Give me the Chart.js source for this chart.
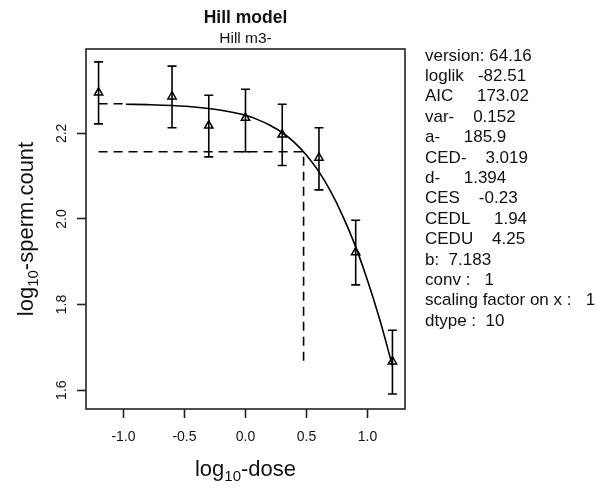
<!DOCTYPE html>
<html><head><meta charset="utf-8">
<script src="https://cdn.jsdelivr.net/npm/chart.js@4.4.0/dist/chart.umd.min.js"></script>
<style>html,body{margin:0;padding:0;background:#fff;}canvas{display:block;}</style>
</head><body>
<canvas id="c" width="611" height="490"></canvas>
<script>
// ---- data ----
const doseLog   = [-1.204, -0.602, -0.301, 0.0, 0.301, 0.602, 0.903, 1.204];
const meanResp  = [2.295, 2.286, 2.218, 2.236, 2.197, 2.143, 1.922, 1.667];
const upperResp = [2.367, 2.357, 2.289, 2.303, 2.268, 2.213, 1.997, 1.740];
const lowerResp = [2.222, 2.213, 2.145, 2.157, 2.125, 2.068, 1.846, 1.591];
const curveX = [-0.98, -0.8, -0.6, -0.4, -0.2, 0.0, 0.1, 0.2, 0.3, 0.4, 0.5, 0.6, 0.7, 0.8, 0.9, 1.0, 1.1, 1.204];
const curveY = [2.268, 2.267, 2.265, 2.261, 2.254, 2.242, 2.232, 2.219, 2.202, 2.179, 2.149, 2.111, 2.063, 2.005, 1.937, 1.856, 1.765, 1.657];
const backgroundLevel = 2.269;
const cesLevel = 2.157;
const cedLog = 0.476;
const cedLineBottom = 1.664;
const xTicks = [-1.0, -0.5, 0.0, 0.5, 1.0];
const yTicks = [1.6, 1.8, 2.0, 2.2];
const titleMain = 'Hill model';
const titleSub = 'Hill m3-';
const statLines = [
  'version: 64.16',
  'loglik   -82.51',
  'AIC     173.02',
  'var-    0.152',
  'a-     185.9',
  'CED-    3.019',
  'd-     1.394',
  'CES    -0.23',
  'CEDL     1.94',
  'CEDU    4.25',
  'b:  7.183',
  'conv :   1',
  'scaling factor on x :   1',
  'dtype :  10'
];

const FONT = '"Liberation Sans", Arial, Helvetica, sans-serif';
const INK = '#111';

function drawSubText(ctx, parts, size, subSize, subDrop) {
  let total = 0;
  const widths = parts.map(p => {
    ctx.font = (p.sub ? subSize : size) + 'px ' + FONT;
    const w = ctx.measureText(p.t).width; total += w; return w;
  });
  let x = -total / 2;
  parts.forEach((p, i) => {
    ctx.font = (p.sub ? subSize : size) + 'px ' + FONT;
    ctx.fillText(p.t, x, p.sub ? subDrop : 0);
    x += widths[i];
  });
}

const decorPlugin = {
  id: 'decor',
  afterDatasetsDraw(chart) {
    const {ctx, scales: {x, y}, chartArea: a} = chart;
    ctx.save();
    ctx.strokeStyle = '#000';
    ctx.lineWidth = 1.6;
    doseLog.forEach((d, i) => {
      const px = x.getPixelForValue(d);
      const pt = y.getPixelForValue(upperResp[i]);
      const pb = y.getPixelForValue(lowerResp[i]);
      ctx.beginPath();
      ctx.moveTo(px, pt); ctx.lineTo(px, pb);
      ctx.moveTo(px - 4.5, pt); ctx.lineTo(px + 4.5, pt);
      ctx.moveTo(px - 4.5, pb); ctx.lineTo(px + 4.5, pb);
      ctx.stroke();
    });
    ctx.strokeStyle = '#222';
    ctx.lineWidth = 1.6;
    ctx.strokeRect(a.left, a.top, a.right - a.left, a.bottom - a.top);
    ctx.restore();
  },
  afterDraw(chart) {
    const {ctx, chartArea: a} = chart;
    const cx = (a.left + a.right) / 2;
    const cy = (a.top + a.bottom) / 2;
    ctx.save();
    ctx.fillStyle = INK;
    ctx.textBaseline = 'alphabetic';
    ctx.textAlign = 'center';
    ctx.font = 'bold 17.5px ' + FONT;
    ctx.fillText(titleMain, cx, 23);
    ctx.font = '15.5px ' + FONT;
    ctx.fillText(titleSub, cx, 43);
    ctx.textAlign = 'left';
    ctx.save();
    ctx.translate(cx, 476);
    drawSubText(ctx, [{t:'log'},{t:'10',sub:true},{t:'-dose'}], 22, 15, 5);
    ctx.restore();
    ctx.save();
    ctx.translate(33, cy);
    ctx.rotate(-Math.PI / 2);
    drawSubText(ctx, [{t:'log'},{t:'10',sub:true},{t:'-sperm.count'}], 22, 15, 5);
    ctx.restore();
    ctx.font = '17px ' + FONT;
    ctx.textAlign = 'left';
    statLines.forEach((s, i) => {
      ctx.fillText(s, 425, 60.5 + i * 20.4);
    });
    ctx.restore();
  }
};

const pts = (xs, ys) => xs.map((v, i) => ({x: v, y: ys[i]}));

new Chart(document.getElementById('c'), {
  type: 'scatter',
  data: {
    datasets: [
      {
        label: 'observed',
        data: pts(doseLog, meanResp),
        pointStyle: 'triangle',
        pointRadius: 4.8,
        pointBorderWidth: 1.5,
        pointBorderColor: '#000',
        pointBackgroundColor: 'rgba(0,0,0,0)',
        showLine: false
      },
      {
        label: 'fit',
        data: pts(curveX, curveY),
        showLine: true,
        borderColor: '#000',
        borderWidth: 1.6,
        pointRadius: 0,
        cubicInterpolationMode: 'monotone',
        fill: false
      },
      {
        label: 'background',
        data: [{x: doseLog[0], y: backgroundLevel}, {x: curveX[0], y: backgroundLevel}],
        showLine: true,
        borderColor: '#000',
        borderWidth: 1.6,
        borderDash: [9, 6],
        pointRadius: 0
      },
      {
        label: 'CES',
        data: [{x: doseLog[0], y: cesLevel}, {x: cedLog, y: cesLevel}, {x: cedLog, y: cedLineBottom}],
        showLine: true,
        borderColor: '#000',
        borderWidth: 1.6,
        borderDash: [9, 6],
        pointRadius: 0
      }
    ]
  },
  options: {
    responsive: false,
    animation: false,
    devicePixelRatio: 1,
    layout: {padding: {left: 0, top: 49, right: 206, bottom: 0}},
    plugins: {legend: {display: false}, tooltip: {enabled: false}, title: {display: false}},
    scales: {
      x: {
        type: 'linear',
        min: -1.307, max: 1.307,
        afterBuildTicks: s => { s.ticks = xTicks.map(v => ({value: v})); },
        afterFit: s => { s.height = 81; },
        grid: {drawOnChartArea: false, drawTicks: true, tickLength: 9, tickColor: '#222', tickWidth: 1.6},
        border: {display: false},
        ticks: {
          padding: 11,
          autoSkip: false,
          maxRotation: 0,
          color: INK,
          font: {family: FONT, size: 14},
          callback: v => v.toFixed(1)
        }
      },
      y: {
        type: 'linear',
        min: 1.556, max: 2.397,
        afterBuildTicks: s => { s.ticks = yTicks.map(v => ({value: v})); },
        afterFit: s => { s.width = 86; },
        grid: {drawOnChartArea: false, drawTicks: true, tickLength: 9, tickColor: '#222', tickWidth: 1.6},
        border: {display: false},
        ticks: {
          padding: 5,
          autoSkip: false,
          minRotation: 90,
          maxRotation: 90,
          crossAlign: 'center',
          color: INK,
          font: {family: FONT, size: 14},
          callback: v => v.toFixed(1)
        }
      }
    }
  },
  plugins: [decorPlugin]
});
</script>
</body></html>
